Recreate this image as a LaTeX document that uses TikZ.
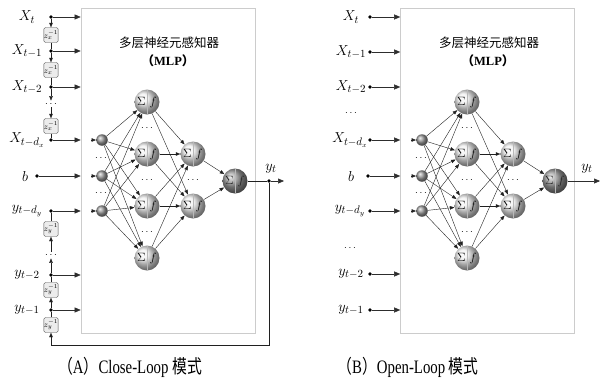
\documentclass[tikz,border=0pt]{standalone}
\usepackage{fontspec}
\setmainfont{Liberation Serif}
\newfontfamily\cjk{Noto Sans CJK SC}
\usetikzlibrary{arrows.meta}

\begin{document}
\begin{tikzpicture}[x=1pt,y=-1pt,
    mlpbox/.style={draw=gray!40,line width=0.6pt,minimum width=174pt,minimum height=325pt,inner sep=0pt},
    lbl/.style={font=\fontsize{15}{17}\selectfont,inner sep=1pt},
    vdots/.style={font=\bfseries\fontsize{10}{10}\selectfont,inner sep=1pt},
    tap/.style={circle,fill=black,inner sep=0pt,minimum size=3.8pt},
    delay/.style={draw=gray!60!black,fill=gray!15,rounded corners=1.5pt,minimum width=14pt,minimum height=15pt,inner sep=0pt,font=\fontsize{8}{8}\selectfont},
    innode/.style={circle,ball color=gray!80,minimum size=11.5pt,inner sep=0pt},
    sumnode/.style={circle,ball color=gray!12,minimum size=25pt,inner sep=0pt,font=\fontsize{11.5}{12}\selectfont,
        path picture={\draw[gray!55] (path picture bounding box.north) -- (path picture bounding box.south);}},
    outnode/.style={sumnode,ball color=gray!78,text=gray!25!black},
    feed/.style={-{Triangle[length=6pt,width=5pt]},gray!35!black,line width=0.5pt},
    wire/.style={-{Triangle[length=4.5pt,width=3.5pt]},gray!25!black,line width=0.4pt},
    plain/.style={gray!25!black,line width=0.4pt},
    titletext/.style={font=\cjk\fontsize{12.5}{14}\selectfont},
    captext/.style={font=\fontsize{19}{21}\selectfont}]
    \useasboundingbox (0,0) rectangle (603,389);

    % ---------------- (A) Close-Loop ----------------
    \node[mlpbox] (aMLP) at (168,170.5) {};
    \node[titletext] (aTitle) at (169,43) {多层神经元感知器};
    \node[font=\bfseries\fontsize{12.5}{14}\selectfont] (aName) at (168,61) {{\cjk （}MLP{\cjk ）}};

    % Exogenous inputs with delays
    \node[lbl] (aXt) at (27,17) {$X_t$};
    \node[tap] (aXtp) at (51,17) {};
    \node[delay] (aZx1) at (51,35) {$z_x^{-1}$};
    \node[lbl] (aX1) at (27,51) {$X_{t-1}$};
    \node[tap] (aX1p) at (51,51) {};
    \node[delay] (aZx2) at (51,70) {$z_x^{-1}$};
    \node[lbl] (aX2) at (27,87) {$X_{t-2}$};
    \node[tap] (aX2p) at (51,87) {};
    \node[vdots] (aXdots) at (51,104) {$\cdots$};
    \node[delay] (aZx3) at (51,126) {$z_x^{-1}$};
    \node[lbl] (aXd) at (27,140) {$X_{t-d_x}$};
    \node[tap] (aXdp) at (51,140) {};

    % Bias
    \node[lbl] (aB) at (25,176) {$b$};
    \node[tap] (aBp) at (37,176) {};

    % Fed-back outputs with delays
    \node[lbl] (aYd) at (27,211) {$y_{t-d_y}$};
    \node[tap] (aYdp) at (51,211) {};
    \node[delay] (aZy1) at (51,229) {$z_y^{-1}$};
    \node[vdots] (aYdots) at (51,255) {$\cdots$};
    \node[lbl] (aY2) at (27,275) {$y_{t-2}$};
    \node[tap] (aY2p) at (51,275) {};
    \node[delay] (aZy2) at (51,290) {$z_y^{-1}$};
    \node[lbl] (aY1) at (27,310) {$y_{t-1}$};
    \node[tap] (aY1p) at (51,310) {};
    \node[delay] (aZy3) at (51,325) {$z_y^{-1}$};

    % Delay chains
    \draw[wire] (aXtp) -- (aZx1);
    \draw[plain] (aZx1) -- (aX1p);
    \draw[wire] (aX1p) -- (aZx2);
    \draw[plain] (aZx2) -- (aX2p);
    \draw[wire] (aX2p) -- (aXdots);
    \draw[wire] (aXdots) -- (aZx3);
    \draw[plain] (aZx3) -- (aXdp);
    \draw[plain] (aZy1) -- (aYdp);
    \draw[wire] (aYdots) -- (aZy1);
    \draw[wire] (aY2p) -- (aYdots);
    \draw[plain] (aZy2) -- (aY2p);
    \draw[wire] (aY1p) -- (aZy2);
    \draw[plain] (aZy3) -- (aY1p);

    % Inputs into the MLP box
    \foreach \t in {aXtp,aX1p,aX2p,aXdp,aBp,aYdp,aY2p,aY1p}
        \draw[feed] (\t) -- (\t -| aMLP.west);

    % Network
    \node[innode] (aI1) at (102,140) {};
    \node[innode] (aI2) at (102,176) {};
    \node[innode] (aI3) at (102,211) {};
    \node[vdots] (aIdots1) at (101,158) {$\cdots$};
    \node[vdots] (aIdots2) at (101,193) {$\cdots$};
    \coordinate (aI1in) at (91,140);
    \coordinate (aI2in) at (91,176);
    \coordinate (aI3in) at (91,211);
    \node[sumnode] (aH1) at (147,102) {$\Sigma\hspace{4pt}f$};
    \node[sumnode] (aH2) at (147,154) {$\Sigma\hspace{4pt}f$};
    \node[sumnode] (aH3) at (147,206) {$\Sigma\hspace{4pt}f$};
    \node[sumnode] (aH4) at (147,258) {$\Sigma\hspace{4pt}f$};
    \node[vdots] (aHdots1) at (147,128) {$\cdots$};
    \node[vdots] (aHdots2) at (147,180) {$\cdots$};
    \node[vdots] (aHdots3) at (147,232) {$\cdots$};
    \node[sumnode] (aG1) at (193,154) {$\Sigma\hspace{4pt}f$};
    \node[sumnode] (aG2) at (193,206) {$\Sigma\hspace{4pt}f$};
    \node[vdots] (aGdots) at (193,180) {$\cdots$};
    \node[outnode] (aOut) at (235,181) {$\Sigma\hspace{4pt}f$};
    \node[tap] (aYtp) at (269,181) {};
    \node[lbl] (aYt) at (271,169) {$y_t$};
    \coordinate (aYend) at (284,181);
    \coordinate (aFb) at (51,345);

    \foreach \i in {1,2,3} \draw[wire] (aI\i in) -- (aI\i);
    \foreach \i in {1,2,3}
        \foreach \h in {1,2,3,4} \draw[wire] (aI\i) -- (aH\h);
    \foreach \h in {1,2,3,4}
        \foreach \g in {1,2} \draw[wire] (aH\h) -- (aG\g);
    \draw[wire] (aG1) -- (aOut);
    \draw[wire] (aG2) -- (aOut);
    \draw[plain] (aOut) -- (aYtp);
    \draw[feed] (aYtp) -- (aYend);
    % Feedback loop
    \draw[wire] (aYtp) |- (aFb) -- (aZy3);

    \node[captext] (aCap) at (130,367) {\scalebox{0.78}[1]{{\cjk （}A{\cjk ）}Close-Loop {\cjk 模式}}};

    % ---------------- (B) Open-Loop ----------------
    \node[mlpbox] (bMLP) at (487.5,170.5) {};
    \node[titletext] (bTitle) at (489,43) {多层神经元感知器};
    \node[font=\bfseries\fontsize{12.5}{14}\selectfont] (bName) at (488,61) {{\cjk （}MLP{\cjk ）}};

    \node[lbl] (bXt) at (351,17) {$X_t$};
    \node[tap] (bXtp) at (370,17) {};
    \node[lbl] (bX1) at (351,52) {$X_{t-1}$};
    \node[tap] (bX1p) at (370,52) {};
    \node[lbl] (bX2) at (351,87) {$X_{t-2}$};
    \node[tap] (bX2p) at (370,87) {};
    \node[vdots] (bXdots) at (351,113) {$\cdots$};
    \node[lbl] (bXd) at (350,140) {$X_{t-d_x}$};
    \node[tap] (bXdp) at (370,140) {};
    \node[lbl] (bB) at (351,176) {$b$};
    \node[tap] (bBp) at (368,176) {};
    \node[lbl] (bYd) at (350,211) {$y_{t-d_y}$};
    \node[tap] (bYdp) at (370,211) {};
    \node[vdots] (bYdots) at (350,248) {$\cdots$};
    \node[lbl] (bY2) at (351,274) {$y_{t-2}$};
    \node[tap] (bY2p) at (370,274) {};
    \node[lbl] (bY1) at (351,310) {$y_{t-1}$};
    \node[tap] (bY1p) at (370,310) {};

    \foreach \t in {bXtp,bX1p,bX2p,bXdp,bBp,bYdp,bY2p,bY1p}
        \draw[feed] (\t) -- (\t -| bMLP.west);

    \node[innode] (bI1) at (422,140) {};
    \node[innode] (bI2) at (422,176) {};
    \node[innode] (bI3) at (422,211) {};
    \node[vdots] (bIdots1) at (421,158) {$\cdots$};
    \node[vdots] (bIdots2) at (421,193) {$\cdots$};
    \coordinate (bI1in) at (411,140);
    \coordinate (bI2in) at (411,176);
    \coordinate (bI3in) at (411,211);
    \node[sumnode] (bH1) at (467,102) {$\Sigma\hspace{4pt}f$};
    \node[sumnode] (bH2) at (467,154) {$\Sigma\hspace{4pt}f$};
    \node[sumnode] (bH3) at (467,206) {$\Sigma\hspace{4pt}f$};
    \node[sumnode] (bH4) at (467,258) {$\Sigma\hspace{4pt}f$};
    \node[vdots] (bHdots1) at (467,128) {$\cdots$};
    \node[vdots] (bHdots2) at (467,180) {$\cdots$};
    \node[vdots] (bHdots3) at (467,232) {$\cdots$};
    \node[sumnode] (bG1) at (513,154) {$\Sigma\hspace{4pt}f$};
    \node[sumnode] (bG2) at (513,206) {$\Sigma\hspace{4pt}f$};
    \node[vdots] (bGdots) at (513,180) {$\cdots$};
    \node[outnode] (bOut) at (555,181) {$\Sigma\hspace{4pt}f$};
    \node[lbl] (bYt) at (587,169) {$y_t$};
    \coordinate (bYend) at (600,181);

    \foreach \i in {1,2,3} \draw[wire] (bI\i in) -- (bI\i);
    \foreach \i in {1,2,3}
        \foreach \h in {1,2,3,4} \draw[wire] (bI\i) -- (bH\h);
    \foreach \h in {1,2,3,4}
        \foreach \g in {1,2} \draw[wire] (bH\h) -- (bG\g);
    \draw[wire] (bG1) -- (bOut);
    \draw[wire] (bG2) -- (bOut);
    \draw[feed] (bOut) -- (bYend);

    \node[captext] (bCap) at (408,367) {\scalebox{0.78}[1]{{\cjk （}B{\cjk ）}Open-Loop {\cjk 模式}}};
\end{tikzpicture}
\end{document}
